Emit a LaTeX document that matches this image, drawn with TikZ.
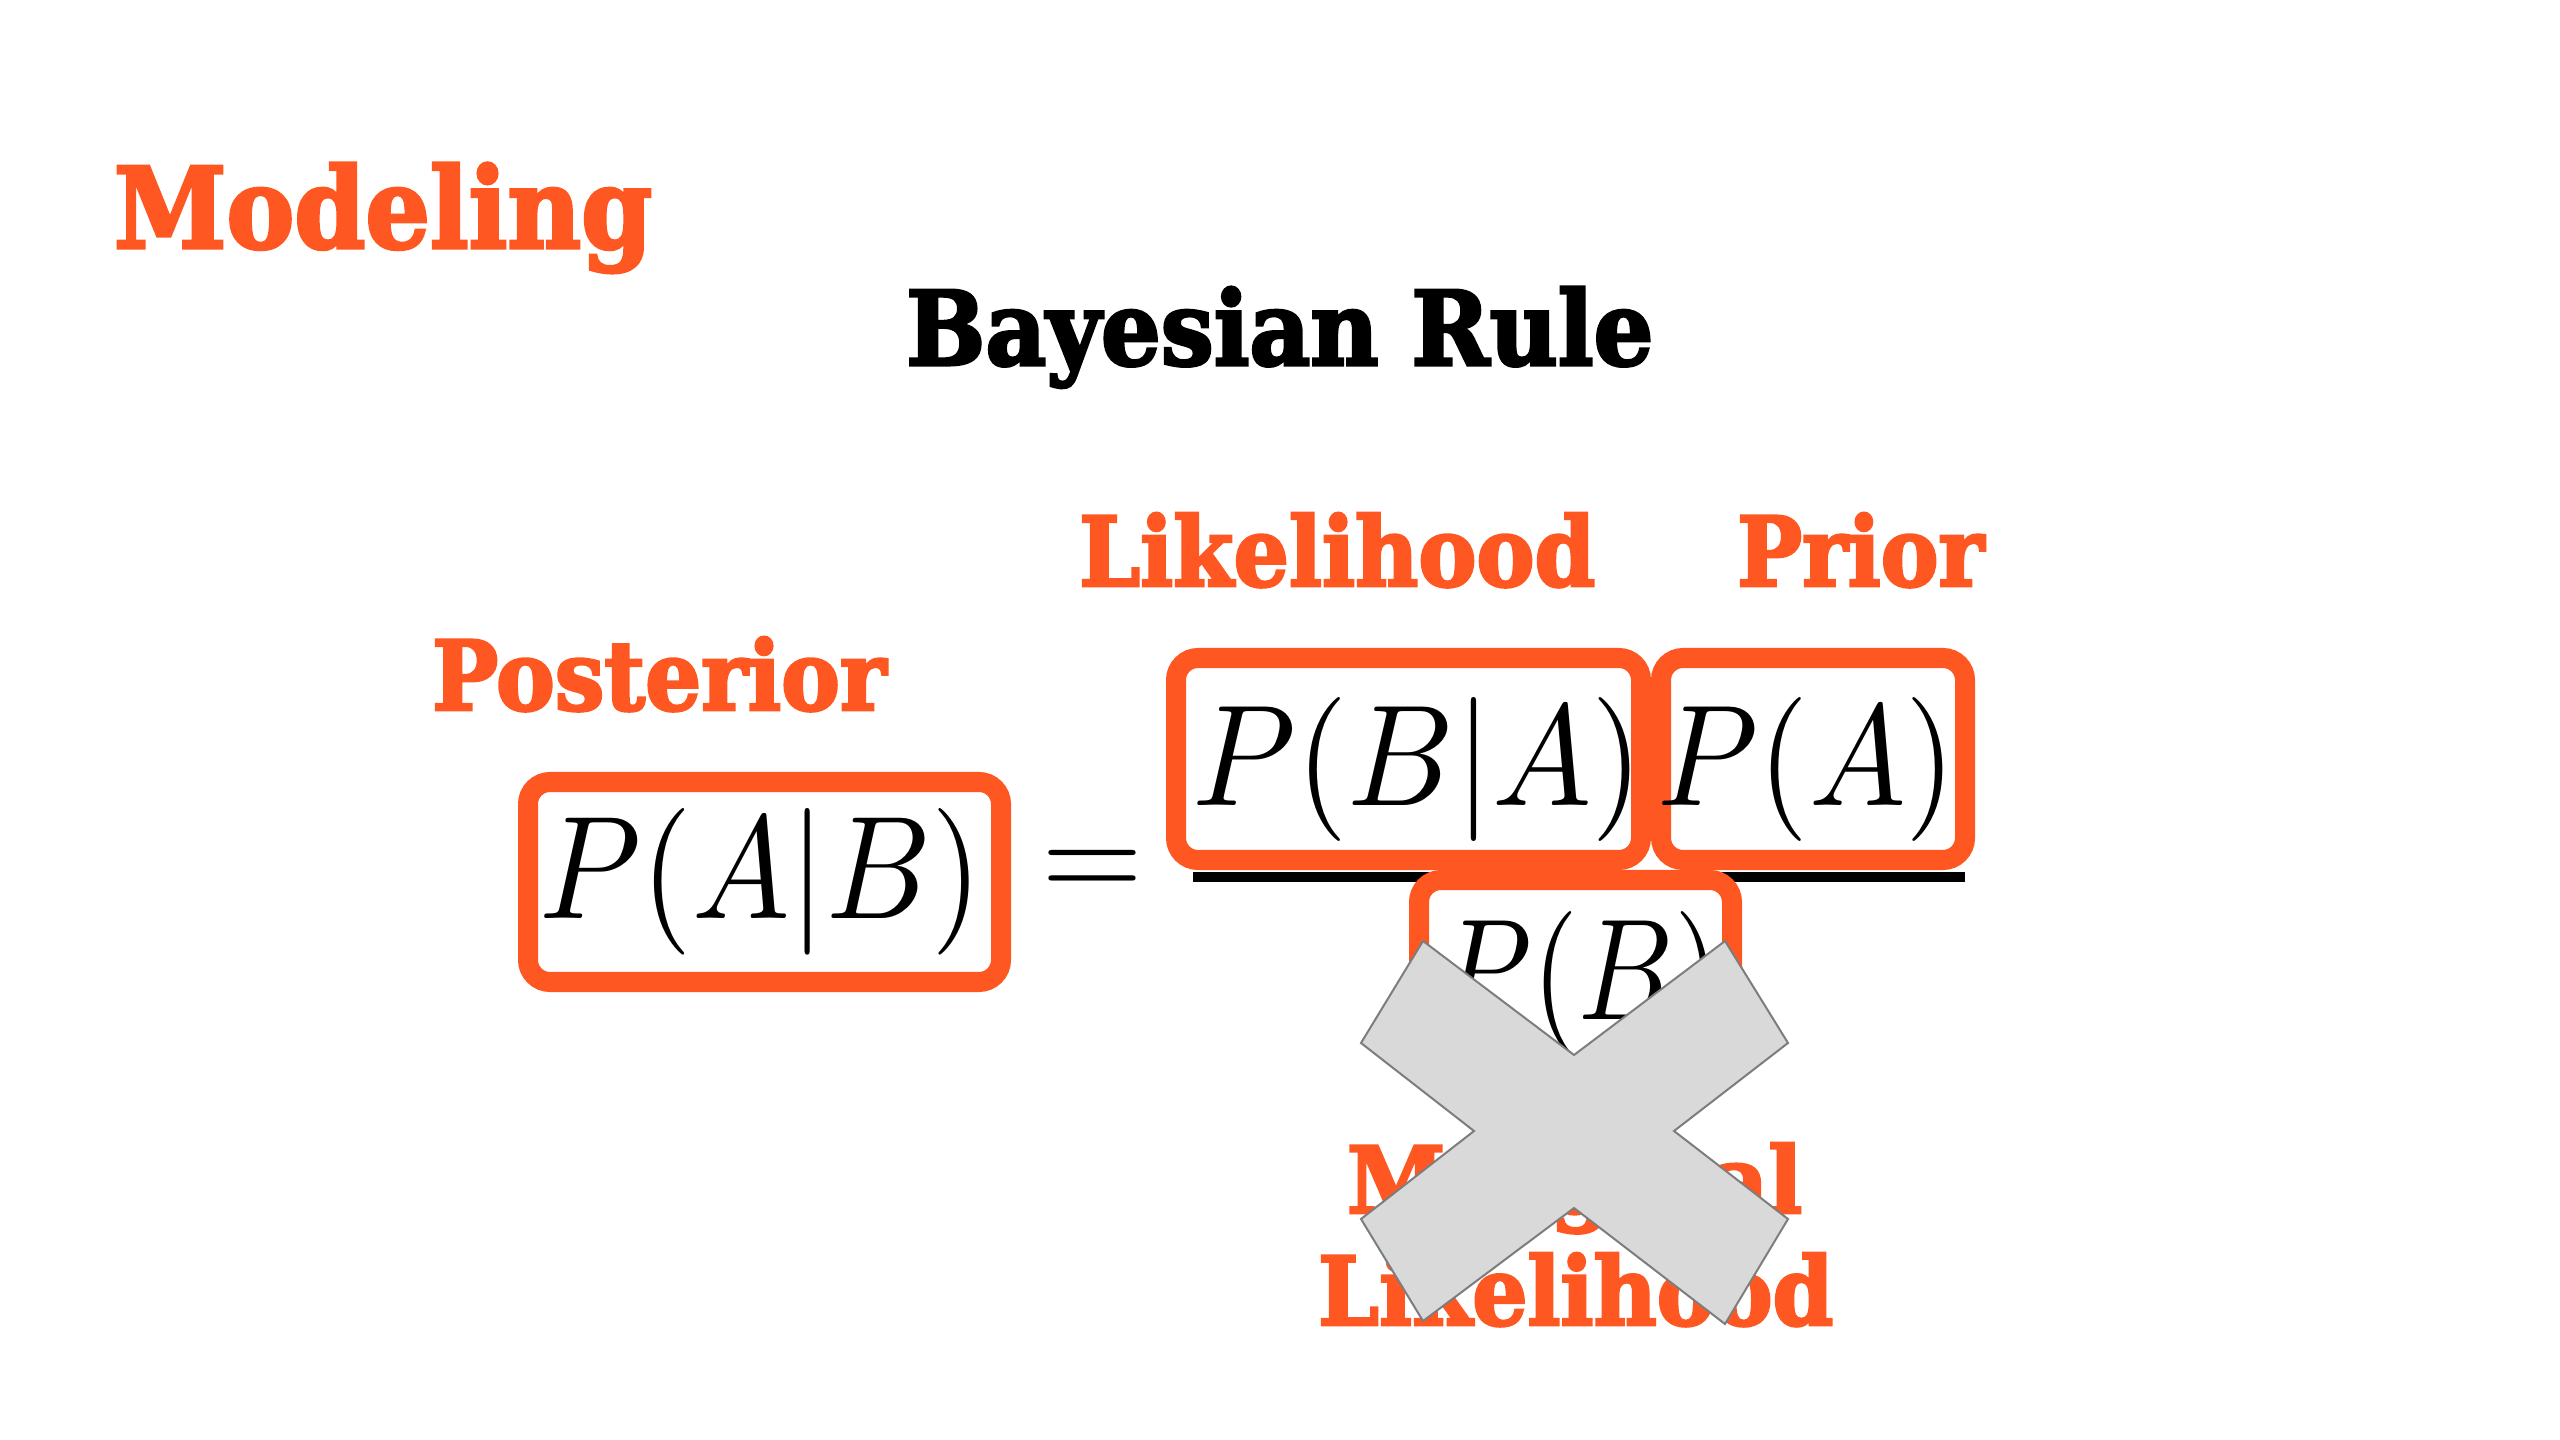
\documentclass[tikz,border=0pt]{standalone}
\usepackage{fontspec}
\usepackage{graphicx}
\newfontfamily\slab{DejaVu Serif}[BoldFeatures={FakeBold=3}]
\definecolor{orng}{RGB}{255,87,34}
\definecolor{xfill}{RGB}{217,217,217}
\definecolor{xline}{RGB}{125,125,125}
\newcommand{\fitlabel}[3]{\resizebox{#1cm}{#2cm}{\slab\bfseries #3}}
\newcommand{\fitmath}[3]{\resizebox{#1cm}{#2cm}{$#3$}}
\begin{document}
\begin{tikzpicture}[x=0.01cm,y=-0.01cm,
  lbl/.style={anchor=base west,inner sep=0,outer sep=0,text=orng},
  ttl/.style={anchor=base west,inner sep=0,outer sep=0,text=black},
  termbox/.style={draw=orng,line width=0.2cm,rounded corners=0.22cm},
  mth/.style={anchor=base,inner sep=0,outer sep=0},
  crossmark/.style={fill=xfill,draw=xline,line width=0.02cm,line join=miter}]
\useasboundingbox (0,0) rectangle (2560,1440);
\fill[white] (0,0) rectangle (2560,1440);

% titles
\node[lbl] (modeling) at (114,248) {\fitlabel{5.38}{0.85}{Modeling}};
\node[ttl] (title) at (906,365) {\fitlabel{7.47}{0.78}{Bayesian Rule}};

% labels
\node[lbl] (likelihood) at (1079,586) {\fitlabel{5.16}{0.73}{Likelihood}};
\node[lbl] (prior) at (1737,586) {\fitlabel{2.47}{0.73}{Prior}};
\node[lbl] (posterior) at (432,710) {\fitlabel{4.54}{0.73}{Posterior}};
\node[lbl] (marginal) at (1347,1213) {\fitlabel{4.55}{0.70}{Marginal}};
\node[lbl] (marglik) at (1318,1325) {\fitlabel{5.15}{0.72}{Likelihood}};

% fraction line and equals sign
\coordinate (fracL) at (1193,877);
\coordinate (fracR) at (1965,877);
\draw[line width=0.09cm] (fracL) -- (fracR);
\node[inner sep=0] (eq) at (1093,874) {\resizebox{1.02cm}{!}{$=$}};

% boxes
\draw[termbox] (528,782) rectangle (1001,982);
\draw[termbox] (1176,658) rectangle (1641,860);
\draw[termbox] (1661,658) rectangle (1965,860);
\draw[termbox] (1419,880) rectangle (1732,1083);

% math terms
\node[mth] (post) at (761,918) {\fitmath{4.42}{1.10}{P(A|B)}};
\node[mth] (lik) at (1418,806) {\fitmath{4.50}{1.08}{P(B|A)}};
\node[mth] (pri) at (1807,806) {\fitmath{2.98}{1.08}{P(A)}};
\node[mth] (marg) at (1580,1020) {\fitmath{2.80}{1.08}{P(B)}};

% cross over the marginal likelihood
\draw[crossmark] (1361,1043) -- (1423,941) -- (1574,1055) -- (1725,941) -- (1788,1043)
  -- (1674,1131) -- (1788,1219) -- (1725,1324) -- (1574,1208) -- (1423,1321)
  -- (1361,1219) -- (1474,1131) -- cycle;
\end{tikzpicture}
\end{document}
